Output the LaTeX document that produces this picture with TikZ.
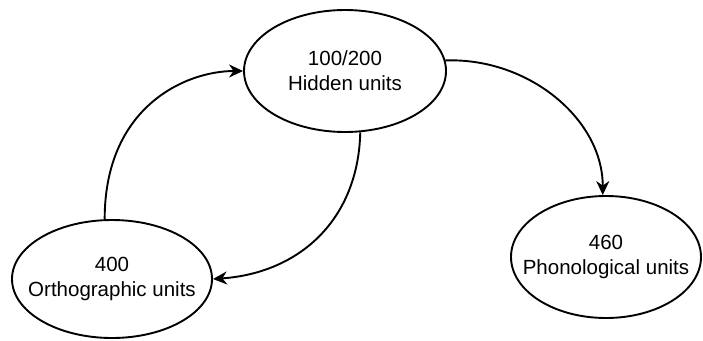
\documentclass[tikz,border=0pt]{standalone}
\usepackage{fontspec}
\setmainfont{Liberation Sans}
\usetikzlibrary{shapes.geometric,arrows.meta}
\begin{document}
\begin{tikzpicture}[x=1pt,y=-1pt,
  unit/.style={draw,ellipse,line width=1.9pt,inner xsep=-30pt,inner ysep=0pt,align=center,
    font=\fontsize{20.5}{25}\selectfont},
  link/.style={line width=1.9pt,-{Stealth[length=14pt,width=13pt,inset=4.5pt]}}]
\useasboundingbox (0,0) rectangle (703,340);
\node[unit,minimum width=202pt,minimum height=122pt] (h) at (345,71) {100/200\\Hidden units};
\node[unit,minimum width=200pt,minimum height=118pt] (o) at (112,279) {400\\Orthographic units};
\node[unit,minimum width=190pt,minimum height=122pt] (p) at (606,257) {460\\Phonological units};
\draw[link] (o.97) .. controls +(0,-112) and +(-58,0) .. (h.west);
\draw[link] (h.284) .. controls +(-2,87) and +(87,-6) .. (o.east);
\draw[link] (h.6) .. controls +(83,-3) and +(0,-76) .. (p.93);
\end{tikzpicture}
\end{document}
